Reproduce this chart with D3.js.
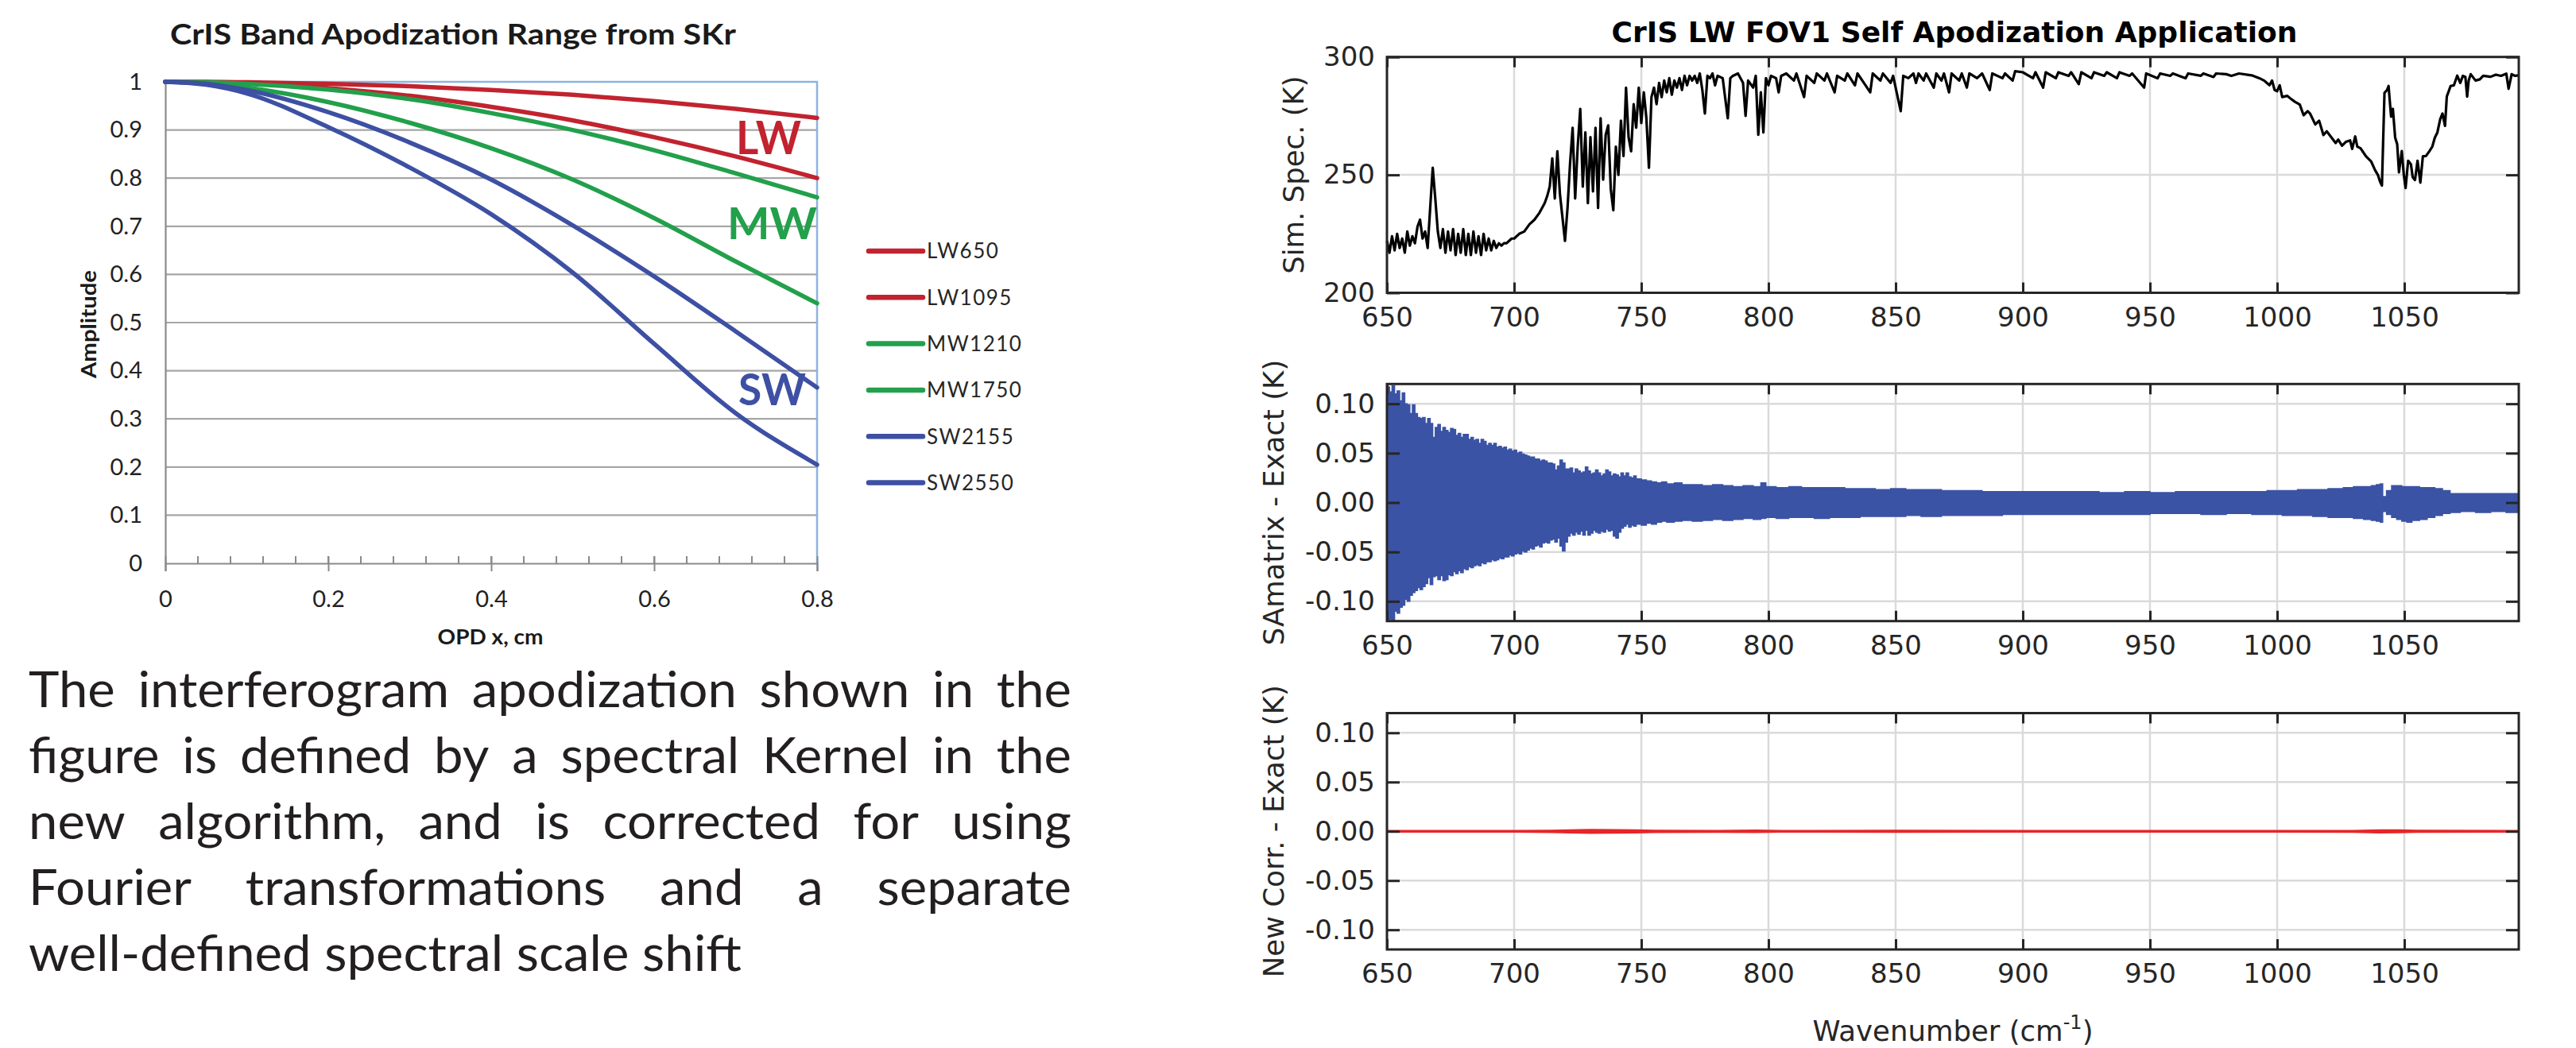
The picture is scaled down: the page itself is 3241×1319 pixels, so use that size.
<!DOCTYPE html>
<html>
<head>
<meta charset="utf-8">
<script src="https://cdn.jsdelivr.net/npm/d3@7"></script>
<style>
  body { margin: 0; background: #fff; overflow: hidden; }
  svg { display: block; }
</style>
</head>
<body>
<div id="fig"></div>
<script>
// ---- left chart: band apodization curves ----
const opd = [0, 0.05, 0.1, 0.2, 0.3, 0.4, 0.5, 0.6, 0.7, 0.8]
const LW650  = [1, 1.000, 0.999, 0.996, 0.991, 0.983, 0.973, 0.960, 0.944, 0.925]
const LW1095 = [1, 0.999, 0.997, 0.987, 0.971, 0.948, 0.920, 0.885, 0.845, 0.800]
const MW1210 = [1, 0.999, 0.996, 0.984, 0.964, 0.935, 0.900, 0.858, 0.810, 0.760]
const MW1750 = [1, 0.997, 0.988, 0.958, 0.915, 0.862, 0.797, 0.717, 0.627, 0.540]
const SW2155 = [1, 0.996, 0.983, 0.937, 0.874, 0.797, 0.702, 0.596, 0.482, 0.365]
const SW2550 = [1, 0.994, 0.976, 0.906, 0.822, 0.725, 0.604, 0.456, 0.312, 0.205]
const bandNames = ['LW650', 'LW1095', 'MW1210', 'MW1750', 'SW2155', 'SW2550']
const bandSeries = [LW650, LW1095, MW1210, MW1750, SW2155, SW2550]
const ampTicks = [0, 0.1, 0.2, 0.3, 0.4, 0.5, 0.6, 0.7, 0.8, 0.9, 1]
const opdTicks = [0, 0.2, 0.4, 0.6, 0.8]

// ---- right top: simulated spectrum (K) ----
const specWn = [
  650, 651, 652, 653, 654, 655, 656, 657, 658, 659,
  660, 661, 662, 663, 664, 665, 666, 667, 668, 669,
  670, 671, 672, 673, 674, 675, 676, 677, 678, 679,
  680, 681, 682, 683, 684, 685, 686, 687, 688, 689,
  690, 691, 692, 693, 694, 695, 696, 697, 698, 699,
  700, 702, 704, 706, 708, 710, 712, 713, 714, 715,
  716, 717, 718, 719, 720, 721, 722, 723, 724, 725,
  726, 727, 728, 729, 730, 731, 732, 733, 734, 735,
  736, 737, 738, 739, 740, 741, 742, 743, 744, 745,
  746, 747, 748, 749, 750, 751, 752, 753, 754, 755,
  756, 757, 758, 759, 760, 761, 762, 763, 764, 765,
  766, 767, 768, 769, 770, 771, 772, 773, 774, 775,
  776, 777, 778, 779, 780, 782, 784, 785, 786, 788,
  790, 791, 792, 794, 795, 796, 797, 798, 799, 800,
  801, 803, 804, 805, 807, 810, 811, 814, 815, 818,
  819, 822, 823, 826, 827, 830, 831, 834, 835, 840,
  841, 844, 845, 848, 849, 852, 853, 855, 857, 858,
  859, 861, 862, 865, 866, 868, 869, 871, 872, 875,
  876, 878, 879, 882, 884, 887, 888, 892, 893, 896,
  897, 900, 904, 905, 908, 909, 913, 914, 918, 919,
  922, 923, 927, 928, 932, 933, 937, 938, 942, 943,
  947.7, 948.5, 953, 954, 958, 959, 964, 965, 970, 971,
  975, 976, 980, 982, 985, 990, 993, 995, 997, 998,
  999, 1000, 1001, 1002, 1004, 1005.7, 1007, 1008.9, 1010.4, 1012,
  1013, 1015, 1016.5, 1018.2, 1019.5, 1021.4, 1023, 1024, 1025.5, 1027,
  1028.7, 1029.5, 1030.7, 1031.5, 1032.8, 1034.9, 1037, 1038.5, 1039.6, 1040.5,
  1041.2, 1042.2, 1043.2, 1043.8, 1044.8, 1045.5, 1046.4, 1047.2, 1047.9, 1049,
  1049.8, 1050.5, 1051.5, 1052.6, 1053.3, 1054.2, 1055.2, 1056.3, 1057.3, 1058.5,
  1059.9, 1061, 1062, 1063, 1064.1, 1065, 1066, 1066.7, 1068.2, 1069.5,
  1070.8, 1072, 1073, 1074, 1074.7, 1075.3, 1076.1, 1078, 1079.7, 1081,
  1083.9, 1086, 1088, 1090.1, 1091, 1092.2, 1093.5, 1095
]
const specBT = [
  222, 217, 224, 218, 225, 219, 223, 217, 226, 220,
  224, 221, 228, 231, 223, 226, 219, 236, 253, 240,
  226, 219, 227, 217, 226, 218, 227, 216, 225, 217,
  227, 216, 225, 216, 226, 217, 224, 216, 225, 218,
  223, 218, 222, 219, 221, 220, 221, 221, 222, 223,
  223, 225, 226, 229, 231, 234, 238, 241, 245, 257,
  240, 260, 242, 232, 222, 236, 255, 270, 240, 262,
  278, 245, 268, 238, 266, 243, 270, 236, 274, 248,
  267, 271, 244, 235, 262, 250, 273, 258, 287, 266,
  260, 280, 270, 287, 272, 285, 274, 253, 283, 287,
  280, 289, 283, 290, 285, 291, 284, 290, 287, 291,
  286, 292, 288, 292, 290, 292, 289, 293, 286, 276,
  292, 291, 293, 288, 292, 291, 274, 291, 292, 293,
  289, 275, 290, 287, 292, 267, 285, 268, 291, 288,
  292, 291, 285, 292, 293, 290, 293, 283, 292, 289,
  293, 290, 293, 285, 292, 290, 293, 288, 293, 285,
  293, 290, 293, 289, 292, 277, 292, 291, 293, 289,
  293, 290, 293, 287, 293, 290, 293, 285, 293, 290,
  293, 287, 293, 291, 293, 286, 293, 291, 293, 290,
  294, 293.5, 291, 293.5, 287, 293.5, 291, 293.5, 292, 293.5,
  288.5, 293.5, 291, 293.5, 292, 293.5, 291, 293.5, 292, 293,
  287, 293, 291, 293, 292, 293, 291, 293, 292, 293,
  291.5, 293, 292.7, 292, 293, 292.2, 291, 289.9, 288, 290,
  286, 285.5, 288, 283, 283.5, 282, 281, 279.8, 275.3, 277,
  275.9, 271.4, 273, 266.9, 268.5, 265.8, 263.5, 265, 262.4, 264,
  264.6, 261, 266.3, 262, 261.3, 257.9, 255.6, 252, 250, 247,
  245.5, 284.8, 286, 287.7, 274.7, 278, 265.8, 263, 251.1, 260.1,
  250, 244.4, 256, 254.5, 249, 247.8, 256, 246.7, 257.9, 258,
  260.1, 262, 265.8, 268, 273.6, 276, 270.8, 283.2, 287.7, 288,
  292.1, 289, 292, 291.6, 283.2, 290, 292.7, 290, 290.5, 292,
  291.6, 292.5, 292, 292.9, 286.5, 292.7, 292, 292.2
]

// ---- right middle: SAmatrix - Exact envelope (K) ----
const diffWn = [
  650, 651, 652, 653, 654, 655, 656, 657, 658, 659,
  660, 661, 662, 663, 664, 665, 666, 667, 668, 669,
  670, 671, 672, 673, 674, 675, 676, 677, 678, 679,
  680, 681, 682, 683, 684, 685, 686, 687, 688, 689,
  690, 691, 692, 693, 694, 695, 696, 697, 698, 699,
  700, 701, 702, 703, 704, 705, 706, 707, 708, 709,
  710, 711, 712, 713, 714, 715, 716, 717, 718, 719,
  720, 721, 722, 723, 724, 725, 726, 727, 728, 729,
  730, 731, 732, 733, 734, 735, 736, 737, 738, 739,
  740, 741, 742, 743, 744, 745, 746, 747, 748, 750,
  752, 754, 756, 758, 760, 763, 766, 770, 774, 778,
  782, 786, 790, 794, 797, 799, 803, 808, 813, 818,
  824, 830, 836, 842, 848, 854, 860, 868, 876, 884,
  892, 900, 910, 920, 930, 940, 950, 960, 970, 980,
  990, 996, 1002, 1008, 1014, 1020, 1026, 1030, 1034, 1037,
  1039, 1040.5, 1041.5, 1043, 1045, 1047, 1049, 1051, 1053, 1056,
  1059, 1062, 1065, 1068, 1072, 1078, 1084, 1090, 1095
]
const diffUpper = [
  0.117, 0.112, 0.118, 0.110, 0.113, 0.103, 0.111, 0.100, 0.099, 0.090,
  0.099, 0.090, 0.086, 0.085, 0.086, 0.080, 0.085, 0.080, 0.066, 0.076,
  0.079, 0.072, 0.076, 0.073, 0.071, 0.075, 0.074, 0.068, 0.070, 0.066,
  0.069, 0.069, 0.064, 0.066, 0.063, 0.064, 0.060, 0.064, 0.062, 0.058,
  0.060, 0.058, 0.060, 0.056, 0.057, 0.055, 0.056, 0.053, 0.054, 0.052,
  0.053, 0.050, 0.051, 0.049, 0.048, 0.047, 0.046, 0.046, 0.044, 0.044,
  0.042, 0.043, 0.042, 0.040, 0.040, 0.039, 0.033, 0.037, 0.043, 0.040,
  0.034, 0.034, 0.035, 0.030, 0.034, 0.032, 0.030, 0.031, 0.036, 0.032,
  0.029, 0.030, 0.033, 0.030, 0.027, 0.029, 0.033, 0.031, 0.027, 0.029,
  0.028, 0.026, 0.030, 0.027, 0.030, 0.026, 0.025, 0.027, 0.024, 0.023,
  0.022, 0.021, 0.020, 0.021, 0.019, 0.020, 0.018, 0.018, 0.017, 0.018,
  0.017, 0.016, 0.017, 0.016, 0.020, 0.016, 0.015, 0.016, 0.015, 0.015,
  0.015, 0.014, 0.014, 0.013, 0.014, 0.013, 0.013, 0.012, 0.012, 0.011,
  0.011, 0.011, 0.011, 0.011, 0.010, 0.011, 0.010, 0.011, 0.011, 0.011,
  0.011, 0.012, 0.012, 0.013, 0.013, 0.014, 0.015, 0.016, 0.016, 0.017,
  0.018, 0.019, 0.006, 0.012, 0.017, 0.017, 0.016, 0.016, 0.016, 0.015,
  0.015, 0.014, 0.012, 0.009, 0.009, 0.009, 0.009, 0.009, 0.009
]
const diffLower = [
  -0.120, -0.118, -0.120, -0.110, -0.112, -0.106, -0.104, -0.098, -0.100, -0.094,
  -0.091, -0.089, -0.086, -0.088, -0.085, -0.082, -0.076, -0.083, -0.075, -0.074,
  -0.078, -0.074, -0.079, -0.078, -0.073, -0.074, -0.070, -0.072, -0.069, -0.071,
  -0.067, -0.068, -0.065, -0.066, -0.064, -0.063, -0.064, -0.061, -0.062, -0.060,
  -0.060, -0.058, -0.059, -0.058, -0.056, -0.057, -0.055, -0.055, -0.053, -0.054,
  -0.052, -0.051, -0.052, -0.049, -0.050, -0.048, -0.046, -0.047, -0.044, -0.043,
  -0.045, -0.041, -0.040, -0.041, -0.038, -0.037, -0.040, -0.036, -0.044, -0.049,
  -0.040, -0.034, -0.031, -0.033, -0.030, -0.032, -0.029, -0.033, -0.028, -0.033,
  -0.031, -0.028, -0.030, -0.031, -0.029, -0.030, -0.027, -0.029, -0.028, -0.034,
  -0.036, -0.030, -0.026, -0.024, -0.022, -0.025, -0.023, -0.024, -0.022, -0.023,
  -0.021, -0.022, -0.020, -0.019, -0.020, -0.019, -0.018, -0.019, -0.018, -0.017,
  -0.018, -0.017, -0.016, -0.017, -0.016, -0.015, -0.016, -0.015, -0.015, -0.016,
  -0.015, -0.015, -0.014, -0.014, -0.014, -0.013, -0.014, -0.013, -0.013, -0.013,
  -0.012, -0.012, -0.012, -0.012, -0.012, -0.012, -0.011, -0.011, -0.012, -0.011,
  -0.012, -0.012, -0.013, -0.013, -0.014, -0.015, -0.015, -0.016, -0.017, -0.018,
  -0.019, -0.020, -0.009, -0.012, -0.015, -0.017, -0.019, -0.020, -0.018, -0.017,
  -0.015, -0.013, -0.011, -0.010, -0.009, -0.010, -0.009, -0.010, -0.009
]

// ---- right bottom: New Corr. - Exact envelope (K) ----
const corrWn    = [650, 700, 715, 722, 730, 740, 748, 755, 780, 795, 805, 850, 900, 1000, 1030, 1040, 1048, 1055, 1095]
const corrUpper = [0.0008, 0.0008, 0.0010, 0.0014, 0.0017, 0.0016, 0.0014, 0.0010, 0.0008, 0.0011, 0.0008, 0.0009, 0.0007, 0.0007, 0.0008, 0.0013, 0.0014, 0.0009, 0.0008]
const corrLower = [-0.0008, -0.0008, -0.0011, -0.0016, -0.0019, -0.0017, -0.0015, -0.0011, -0.0009, -0.0012, -0.0008, -0.0009, -0.0007, -0.0007, -0.0009, -0.0016, -0.0013, -0.0009, -0.0008]

const wnTicks = [650, 700, 750, 800, 850, 900, 950, 1000, 1050]
const btTicks = [200, 250, 300]
const diffTicks = [-0.1, -0.05, 0, 0.05, 0.1]

const paraLines = [
  'The interferogram apodization shown in the',
  'figure is defined by a spectral Kernel in the',
  'new algorithm, and is corrected for using',
  'Fourier transformations and a separate',
  'well-defined spectral scale shift'
]

// ------------------------------------------------------------
var W = 3241, H = 1319
var svg = d3.select('#fig').append('svg').attr('width', W).attr('height', H)

var red = '#c1232f', green = '#22a04b', blue = '#3d50a3'
var bandColors = [red, red, green, green, blue, blue]
var leftFont = 'Lato, "Open Sans", sans-serif'

// ---------------- left chart ----------------
var xo = d3.scaleLinear().domain([0, 0.8]).range([208, 1028])
var ya = d3.scaleLinear().domain([0, 1]).range([709, 103])

var left = svg.append('g').attr('font-family', leftFont)

left.append('text')
  .attr('x', 214).attr('y', 56)
  .attr('font-weight', 'bold').attr('font-size', 36)
  .attr('textLength', 712).attr('lengthAdjust', 'spacingAndGlyphs')
  .attr('fill', '#1a1a1a')
  .text('CrIS Band Apodization Range from SKr')

// horizontal grid
left.append('g').selectAll('line')
  .data(ampTicks.filter(d => d > 0))
  .enter().append('line')
  .attr('x1', xo(0)).attr('x2', xo(0.8))
  .attr('y1', d => ya(d)).attr('y2', d => ya(d))
  .attr('stroke', '#a6a6a6').attr('stroke-width', 2.2)

// plot area border (top / right)
left.append('path')
  .attr('d', 'M' + xo(0) + ',' + ya(1) + 'H' + xo(0.8) + 'V' + ya(0))
  .attr('fill', 'none').attr('stroke', '#8db3e2').attr('stroke-width', 2.5)

// y axis
var yAxisL = d3.axisLeft(ya).tickValues(ampTicks).tickSize(0).tickPadding(29)
  .tickFormat(d => String(d))
var gy = left.append('g').attr('transform', 'translate(' + xo(0) + ',0)').call(yAxisL)
gy.select('.domain').attr('stroke', '#8a8a8a').attr('stroke-width', 2.2)
gy.selectAll('text').attr('font-family', leftFont).attr('font-size', 29).attr('fill', '#222')

// x axis
var xAxisL = d3.axisBottom(xo).tickValues(opdTicks).tickSize(10).tickPadding(24)
  .tickFormat(d => String(d))
var gx = left.append('g').attr('transform', 'translate(0,' + ya(0) + ')').call(xAxisL)
gx.select('.domain').attr('stroke', '#8a8a8a').attr('stroke-width', 2.2)
gx.selectAll('.tick line').attr('stroke', '#8a8a8a').attr('stroke-width', 2).attr('y1', -9)
gx.selectAll('text').attr('font-family', leftFont).attr('font-size', 29).attr('fill', '#222')
// minor ticks every 0.04
gx.append('g').selectAll('line')
  .data(d3.range(0.04, 0.8, 0.04))
  .enter().append('line')
  .attr('x1', d => xo(d)).attr('x2', d => xo(d))
  .attr('y1', -9).attr('y2', 0)
  .attr('stroke', '#8a8a8a').attr('stroke-width', 2)

left.append('text')
  .attr('x', 617).attr('y', 811).attr('text-anchor', 'middle')
  .attr('font-weight', 'bold').attr('font-size', 26)
  .attr('textLength', 133).attr('lengthAdjust', 'spacingAndGlyphs')
  .attr('fill', '#1a1a1a').text('OPD x, cm')

left.append('text')
  .attr('transform', 'translate(121,408) rotate(-90)')
  .attr('text-anchor', 'middle')
  .attr('font-weight', 'bold').attr('font-size', 26)
  .attr('textLength', 136).attr('lengthAdjust', 'spacingAndGlyphs')
  .attr('fill', '#1a1a1a').text('Amplitude')

// curves
var bandLine = d3.line()
  .x((d, i) => xo(opd[i]))
  .y(d => ya(d))
  .curve(d3.curveMonotoneX)

left.append('g').selectAll('path')
  .data(bandSeries)
  .enter().append('path')
  .attr('d', d => bandLine(d))
  .attr('fill', 'none')
  .attr('stroke', (d, i) => bandColors[i])
  .attr('stroke-width', 5.5)
  .attr('stroke-linecap', 'round')

// band labels
var bandTags = [
  { t: 'LW', x: 926, y: 194, len: 82, fs: 58, c: red },
  { t: 'MW', x: 915, y: 301, len: 113, fs: 56, c: green },
  { t: 'SW', x: 929, y: 510, len: 85, fs: 56, c: blue }
]
left.append('g').selectAll('text')
  .data(bandTags)
  .enter().append('text')
  .attr('x', d => d.x).attr('y', d => d.y)
  .attr('font-weight', 'bold').attr('font-size', d => d.fs)
  .attr('textLength', d => d.len).attr('lengthAdjust', 'spacingAndGlyphs')
  .attr('fill', d => d.c)
  .text(d => d.t)

// legend
var lg = left.append('g').selectAll('g')
  .data(bandNames)
  .enter().append('g')
  .attr('transform', (d, i) => 'translate(1093,' + (316 + i * 58.3) + ')')
lg.append('line')
  .attr('x1', 0).attr('x2', 68)
  .attr('stroke', (d, i) => bandColors[i])
  .attr('stroke-width', 6.5).attr('stroke-linecap', 'round')
lg.append('text')
  .attr('x', 73).attr('dy', '0.36em')
  .attr('font-size', 26).attr('letter-spacing', 1.5)
  .attr('fill', '#262626')
  .text(d => d)

// paragraph
var para = svg.append('g').attr('font-family', leftFont).attr('font-size', 62).attr('fill', '#231f20')
function measure(str) {
  var t = para.append('text').text(str)
  var w = t.node().getComputedTextLength()
  t.remove()
  return w
}
var spaceW = measure('a b') - measure('ab')
var squeeze = 897 / measure(paraLines[paraLines.length - 1])
paraLines.forEach(function (line, i) {
  var words = line.split(' ')
  var ws = words.map(w => measure(w) * squeeze)
  var last = i === paraLines.length - 1
  var gap = last ? spaceW * squeeze : (1312 - d3.sum(ws)) / (words.length - 1)
  var x = 36
  words.forEach(function (w, j) {
    para.append('text')
      .attr('x', x).attr('y', 890 + i * 83)
      .attr('textLength', ws[j]).attr('lengthAdjust', 'spacingAndGlyphs')
      .text(w)
    x += ws[j] + gap
  })
})

// ---------------- right panels ----------------
var rightFont = '"DejaVu Sans", "Liberation Sans", sans-serif'
var ink = '#262626'
var xw = d3.scaleLinear().domain([650, 1095]).range([1745, 3169])

var fmt2 = v => v.toFixed(2)
var panels = [
  { y0: 71.7, y1: 368.5, domain: [200, 300], ticks: btTicks, fmt: v => String(v), label: 'Sim. Spec. (K)', lx: 1640 },
  { y0: 483.3, y1: 781.7, domain: [-0.12, 0.12], ticks: diffTicks, fmt: fmt2, label: 'SAmatrix - Exact (K)', lx: 1615 },
  { y0: 897.5, y1: 1195, domain: [-0.12, 0.12], ticks: diffTicks, fmt: fmt2, label: 'New Corr. - Exact (K)', lx: 1615 }
]

var right = svg.append('g').attr('font-family', rightFont)

right.append('text')
  .attr('x', 2459).attr('y', 53).attr('text-anchor', 'middle')
  .attr('font-weight', 'bold').attr('font-size', 36).attr('fill', '#000')
  .text('CrIS LW FOV1 Self Apodization Application')

panels.forEach(function (p, k) {
  p.y = d3.scaleLinear().domain(p.domain).range([p.y1, p.y0])
  var g = right.append('g')

  // grid
  g.append('g').selectAll('line').data(wnTicks).enter().append('line')
    .attr('x1', d => xw(d)).attr('x2', d => xw(d))
    .attr('y1', p.y0).attr('y2', p.y1)
    .attr('stroke', '#dadada').attr('stroke-width', 2.5)
  g.append('g').selectAll('line').data(p.ticks).enter().append('line')
    .attr('x1', xw(650)).attr('x2', xw(1095))
    .attr('y1', d => p.y(d)).attr('y2', d => p.y(d))
    .attr('stroke', '#dadada').attr('stroke-width', 2.5)

  p.g = g
})

// data: spectrum
var specLine = d3.line()
  .x((d, i) => xw(specWn[i]))
  .y(d => panels[0].y(d))
panels[0].g.append('path')
  .attr('d', specLine(specBT))
  .attr('fill', 'none').attr('stroke', '#000')
  .attr('stroke-width', 3.2).attr('stroke-linejoin', 'round')

// data: SAmatrix - exact
var diffArea = d3.area()
  .x((d, i) => xw(diffWn[i]))
  .y0((d, i) => panels[1].y(diffLower[i]))
  .y1(d => panels[1].y(d))
  .curve(d3.curveStepAfter)
panels[1].g.append('path')
  .attr('d', diffArea(diffUpper))
  .attr('fill', '#3b53a4').attr('stroke', '#3b53a4').attr('stroke-width', 1.5)

// data: new correction - exact
var corrArea = d3.area()
  .x((d, i) => xw(corrWn[i]))
  .y0((d, i) => panels[2].y(corrLower[i]))
  .y1(d => panels[2].y(d))
panels[2].g.append('path')
  .attr('d', corrArea(corrUpper))
  .attr('fill', '#e5262b').attr('stroke', '#e5262b').attr('stroke-width', 1.6)

// axes, ticks and boxes
panels.forEach(function (p) {
  var g = p.g
  var styleAxis = function (ax) {
    ax.select('.domain').remove()
    ax.selectAll('.tick line').attr('stroke', ink).attr('stroke-width', 3)
    ax.selectAll('text').attr('font-family', rightFont).attr('font-size', 34).attr('fill', ink)
  }
  g.append('g').attr('transform', 'translate(0,' + p.y1 + ')')
    .call(d3.axisBottom(xw).tickValues(wnTicks).tickSizeInner(-13).tickSizeOuter(0).tickPadding(18).tickFormat(d => String(d)))
    .call(styleAxis)
  g.append('g').attr('transform', 'translate(0,' + p.y0 + ')')
    .call(d3.axisTop(xw).tickValues(wnTicks).tickSizeInner(-13).tickSizeOuter(0).tickFormat(''))
    .call(styleAxis)
  g.append('g').attr('transform', 'translate(' + xw(650) + ',0)')
    .call(d3.axisLeft(p.y).tickValues(p.ticks).tickSizeInner(-16).tickSizeOuter(0).tickPadding(15).tickFormat(p.fmt))
    .call(styleAxis)
  g.append('g').attr('transform', 'translate(' + xw(1095) + ',0)')
    .call(d3.axisRight(p.y).tickValues(p.ticks).tickSizeInner(-16).tickSizeOuter(0).tickFormat(''))
    .call(styleAxis)

  g.append('rect')
    .attr('x', xw(650)).attr('y', p.y0)
    .attr('width', xw(1095) - xw(650)).attr('height', p.y1 - p.y0)
    .attr('fill', 'none').attr('stroke', ink).attr('stroke-width', 3)

  g.append('text')
    .attr('transform', 'translate(' + p.lx + ',' + ((p.y0 + p.y1) / 2) + ') rotate(-90)')
    .attr('text-anchor', 'middle').attr('font-size', 35.5).attr('fill', ink)
    .text(p.label)
})

var xl = right.append('text')
  .attr('x', 2457).attr('y', 1310).attr('text-anchor', 'middle')
  .attr('font-size', 35.5).attr('fill', ink)
xl.append('tspan').text('Wavenumber (cm')
xl.append('tspan').attr('dy', -15).attr('font-size', 24).text('-1')
xl.append('tspan').attr('dy', 15).text(')')
</script>
</body>
</html>
